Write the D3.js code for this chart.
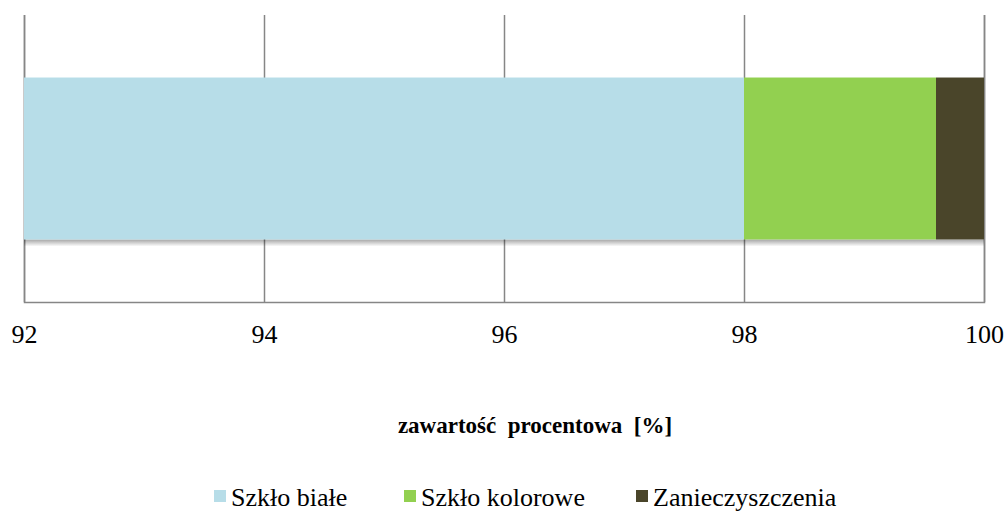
<!DOCTYPE html>
<html>
<head>
<meta charset="utf-8">
<script src="https://cdn.jsdelivr.net/npm/d3@7"></script>
</head>
<body style="margin:0; background:#fff">
<svg id="chart" width="1005" height="515" font-family="Liberation Serif"></svg>
<script>
(function () {
    var categories = ['Szkło białe', 'Szkło kolorowe', 'Zanieczyszczenia'];
    var values = [98.0, 1.6, 0.4];
    var colors = ['#B7DDE8', '#92D050', '#4A452A'];
    var tickValues = [92, 94, 96, 98, 100];
    var axisTitle = 'zawartość\u00a0 procentowa\u00a0 [%]';

    var left = 24, right = 984, top = 15, bottom = 302;
    var serif = 'Liberation Serif';

    var svg = d3.select('#chart');

    var x = d3.scaleLinear().domain([92, 100]).range([left, right]);
    var y = d3.scaleBand().domain(['row']).range([top, bottom]).paddingInner(0).paddingOuter(0.386);

    // soft shadow under the bar (gradient, no filter)
    var grad = svg.append('defs').append('linearGradient')
        .attr('id', 'shade').attr('x1', 0).attr('y1', 0).attr('x2', 0).attr('y2', 1);
    grad.append('stop').attr('offset', '0%').attr('stop-color', '#000').attr('stop-opacity', 0.35);
    grad.append('stop').attr('offset', '100%').attr('stop-color', '#000').attr('stop-opacity', 0);

    // gridlines
    svg.append('g')
        .attr('transform', 'translate(0,' + bottom + ')')
        .call(d3.axisBottom(x).tickValues(tickValues).tickSize(-(bottom - top)).tickFormat(''))
        .call(function (g) {
            g.select('.domain').attr('stroke', '#868686').attr('stroke-width', 1.5);
            g.selectAll('.tick line').attr('stroke', '#868686').attr('stroke-width', 1.5);
        });

    // stacked segments
    var stack = [];
    var acc = 0;
    values.forEach(function (v, i) {
        stack.push({ name: categories[i], x0: acc, x1: acc + v, color: colors[i] });
        acc += v;
    });

    svg.append('rect')
        .attr('x', x(92))
        .attr('y', y('row') + y.bandwidth())
        .attr('width', x(100) - x(92))
        .attr('height', 7)
        .attr('fill', 'url(#shade)');

    svg.append('g')
        .selectAll('rect')
        .data(stack)
        .enter()
        .append('rect')
            .attr('x', function (d) { return x(Math.max(d.x0, 92)); })
            .attr('y', y('row'))
            .attr('width', function (d) { return x(d.x1) - x(Math.max(d.x0, 92)); })
            .attr('height', y.bandwidth())
            .attr('fill', function (d) { return d.color; });

    // tick labels
    svg.append('g')
        .attr('transform', 'translate(0,' + bottom + ')')
        .call(d3.axisBottom(x).tickValues(tickValues).tickSize(0).tickPadding(41))
        .call(function (g) {
            g.select('.domain').remove();
            g.attr('font-family', serif).attr('font-size', 26);
            g.selectAll('.tick text')
                .attr('font-family', serif)
                .attr('fill', '#000')
                .attr('dy', 0);
        });

    // axis title
    svg.append('text')
        .attr('x', 535)
        .attr('y', 433)
        .attr('text-anchor', 'middle')
        .attr('font-family', serif)
        .attr('font-size', 23)
        .attr('font-weight', 'bold')
        .text(axisTitle);

    // legend
    var legendX = [214, 404, 636];
    var legend = svg.append('g')
        .selectAll('g')
        .data(categories)
        .enter()
        .append('g')
            .attr('transform', function (d, i) { return 'translate(' + legendX[i] + ',0)'; });

    legend.append('rect')
        .attr('x', 0)
        .attr('y', 490)
        .attr('width', 12)
        .attr('height', 12)
        .attr('fill', function (d, i) { return colors[i]; });

    legend.append('text')
        .attr('x', 17)
        .attr('y', 506)
        .attr('font-family', serif)
        .attr('font-size', 26)
        .text(function (d) { return d; });
})();
</script>
</body>
</html>
